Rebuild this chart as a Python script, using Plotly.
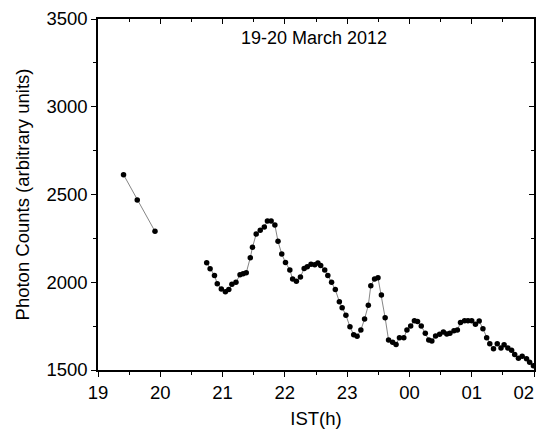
import plotly.graph_objects as go

hours = [19.41, 19.63, 19.915, None,
         20.745, 20.80, 20.87, 20.915, 20.98, 21.045, 21.10, 21.15, 21.215, 21.28, 21.33, 21.38,
         21.445, 21.48, 21.54, 21.605, 21.67, 21.72, 21.78, 21.84, 21.89, 21.95, 22.01, 22.08,
         22.125, 22.185, 22.25, 22.31, 22.36, 22.42, 22.48, 22.53, 22.575, 22.64, 22.69, 22.75,
         22.81, 22.875, 22.92, 22.98, 23.045, 23.105, 23.16, 23.22, 23.28, 23.34, 23.38, 23.44,
         23.495, 23.55, 23.61, 23.665, 23.73, 23.785, 23.84, 23.91, 23.96, 24.02, 24.08, 24.13,
         24.19, 24.255, 24.31, 24.36, 24.42, 24.485, 24.545, 24.60, 24.65, 24.715, 24.77, 24.82,
         24.885, 24.94, 25.00, 25.06, 25.12, 25.18, 25.24, 25.29, 25.35, 25.41, 25.47, 25.52,
         25.58, 25.64, 25.69, 25.75, 25.81, 25.88, 25.93, 25.99]
counts = [2613, 2469, 2290, None,
          2111, 2077, 2039, 1992, 1962, 1946, 1958, 1988, 2000, 2043, 2049, 2054,
          2140, 2199, 2275, 2296, 2315, 2349, 2349, 2326, 2233, 2161, 2113, 2070,
          2019, 2005, 2030, 2079, 2089, 2102, 2100, 2110, 2096, 2070, 2039, 2000,
          1958, 1889, 1855, 1812, 1747, 1701, 1692, 1728, 1791, 1869, 1980, 2019,
          2026, 1927, 1798, 1671, 1658, 1646, 1684, 1684, 1728, 1751, 1781, 1777,
          1751, 1709, 1671, 1665, 1694, 1703, 1717, 1705, 1709, 1724, 1728, 1770,
          1781, 1781, 1781, 1760, 1779, 1735, 1684, 1650, 1621, 1650, 1625, 1644,
          1625, 1612, 1589, 1567, 1578, 1564, 1544, 1524]

tick_vals = [19, 20, 21, 22, 23, 24, 25, 26]
tick_text = ["19", "20", "21", "22", "23", "00", "01", "02\u00a0\u00a0\u00a0\u00a0"]

font_family = "Liberation Sans, Arial, sans-serif"
fs = 18.5

fig = go.Figure()
fig.add_trace(go.Scatter(
    x=hours, y=counts, mode="lines+markers",
    line=dict(color="#666666", width=0.8),
    marker=dict(color="black", size=5.5),
    connectgaps=False, showlegend=False,
))
fig.add_trace(go.Scatter(x=[19], y=[1500], xaxis="x2", yaxis="y2",
                         mode="markers", marker=dict(opacity=0),
                         showlegend=False, hoverinfo="skip"))

axis_common = dict(showline=True, linecolor="black", linewidth=1.5,
                   showgrid=False, zeroline=False, ticklen=5, tickwidth=1.2,
                   tickcolor="black", automargin=False)

fig.update_layout(
    width=537, height=421,
    margin=dict(l=90, r=11, t=11, b=59),
    paper_bgcolor="white", plot_bgcolor="white",
    font=dict(family=font_family, color="black", size=fs),
    xaxis=dict(range=[19, 26], tickvals=tick_vals, ticktext=tick_text,
               ticks="outside", ticklabeloverflow="allow",
               minor=dict(dtick=0.5, tick0=19, ticks="outside", ticklen=3,
                          tickcolor="black", tickwidth=1),
               title=dict(text="IST(h)", font=dict(size=fs), standoff=10),
               tickfont=dict(size=fs), **axis_common),
    yaxis=dict(range=[1500, 3500], dtick=500, ticks="outside",
               minor=dict(dtick=250, ticks="outside", ticklen=3,
                          tickcolor="black", tickwidth=1),
               title=dict(text="Photon Counts (arbitrary units)", font=dict(size=fs), standoff=12),
               tickfont=dict(size=fs), **axis_common),
    xaxis2=dict(range=[19, 26], overlaying="x", side="top", tickvals=tick_vals,
                showticklabels=False, ticks="inside",
                minor=dict(dtick=0.5, tick0=19, ticks="inside", ticklen=3,
                           tickcolor="black", tickwidth=1),
                **axis_common),
    yaxis2=dict(range=[1500, 3500], overlaying="y", side="right", dtick=500,
                showticklabels=False, ticks="inside",
                minor=dict(dtick=250, ticks="inside", ticklen=3,
                           tickcolor="black", tickwidth=1),
                **axis_common),
    annotations=[dict(x=22.46, y=3389, xref="x", yref="y",
                      text="19-20 March 2012", showarrow=False,
                      font=dict(size=18, family=font_family, color="black"))],
)

fig.write_html("out.html")
